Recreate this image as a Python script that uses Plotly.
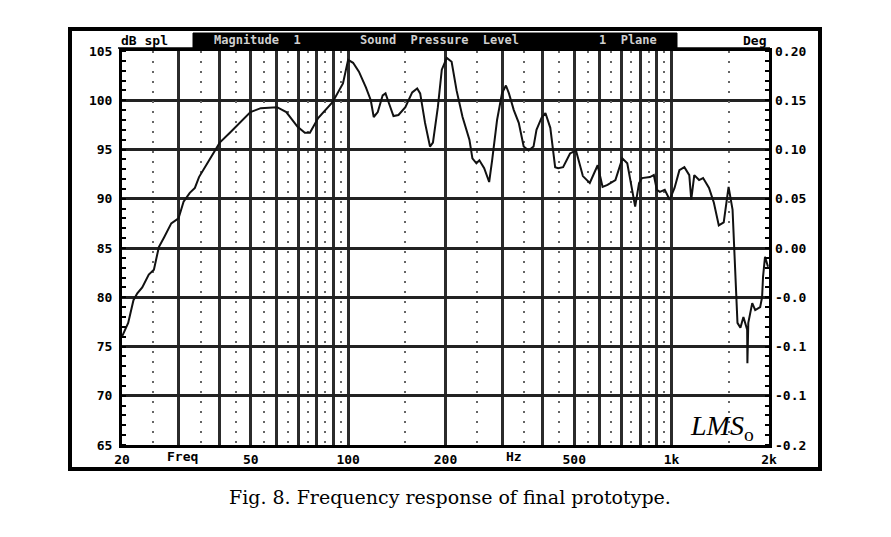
import math
import plotly.graph_objects as go

# ---------------- data ----------------
freq_hz = [20, 20.9, 21.7, 22.3, 23.1, 24.2, 25.1, 26.0, 27.0, 28.4, 29.9, 31.0, 32.4, 33.6,
           34.6, 37.2, 40.1, 43.1, 46.3, 49.9, 53.7, 60.3, 64.4, 69.8, 73.5, 76.2, 80.8,
           89.5, 96.4, 100, 103.6, 108, 113.5, 117.5, 120, 123.5, 127.9, 130.5, 133.4,
           138.1, 143.1, 150.3, 157.8, 163.5, 167, 172.9, 179.1, 182.9, 189.4, 194.8,
           201.8, 208.9, 216.4, 225.8, 237.1, 242.2, 249.2, 254.5, 263.4, 272.9, 278.7,
           288.7, 299, 307.5, 314.1, 325.2, 336.9, 348.9, 361.4, 374.3, 382.2, 396,
           407.3, 421.7, 436.5, 445.7, 461.9, 485.3, 506.2, 531.7, 558.5, 590.7, 611.8,
           633.7, 670.3, 704, 729.3, 755.1, 771.5, 793.1, 810, 857, 881, 900.2, 919.3,
           952.2, 986.3, 1021, 1057, 1095, 1134, 1150, 1175, 1216, 1251, 1278, 1305,
           1351, 1399, 1449, 1490, 1500, 1543, 1554, 1576, 1598, 1632, 1667, 1712,
           1715, 1726, 1775, 1813, 1878, 1904, 1917, 1944, 1986]
spl_db = [76.0, 77.4, 79.7, 80.4, 81.0, 82.3, 82.8, 85.1, 86.1, 87.5, 88.0, 89.7, 90.6, 91.1,
          92.2, 93.9, 95.7, 96.7, 97.7, 98.8, 99.2, 99.3, 98.8, 97.3, 96.7, 96.7, 98.2,
          99.8, 101.7, 104.1, 103.8, 102.9, 101.3, 100.0, 98.3, 98.8, 100.5, 100.7, 99.8,
          98.4, 98.5, 99.3, 100.8, 101.2, 100.7, 97.7, 95.3, 95.7, 99.3, 103.1,
          104.3, 103.9, 101.0, 98.3, 96.0, 94.1, 93.6, 93.9, 93.1, 91.7, 93.9,
          98.0, 100.7, 101.5, 100.7, 99.0, 97.7, 95.3, 94.9, 95.3, 97.0, 98.2,
          98.7, 97.2, 93.2, 93.1, 93.2, 94.6, 94.9, 92.3, 91.6, 93.4, 91.2,
          91.4, 91.9, 94.1, 93.6, 90.9, 89.2, 91.6, 92.1, 92.2, 92.4, 90.9, 90.7,
          90.9, 89.9, 91.1, 92.9, 93.2, 92.4, 89.9, 92.4, 91.9, 92.1, 91.6, 91.1,
          89.6, 87.3, 87.6, 90.2, 91.2, 88.9, 86.5, 82.1, 77.4, 76.9, 78.0, 76.7,
          73.3, 77.4, 79.4, 78.7, 79.0, 80.0, 82.1, 84.1, 83.1]

spl_ticks = [65, 70, 75, 80, 85, 90, 95, 100, 105]
spl_tick_text = ["65", "70", "75", "80", "85", "90", "95", "100", "105"]
deg_ticks = [-0.2, -0.15, -0.1, -0.05, 0.0, 0.05, 0.10, 0.15, 0.20]
deg_tick_text = ["-0.2", "-0.1", "-0.1", "-0.0", "0.00", "0.05", "0.10", "0.15", "0.20"]
freq_labels = [20, 50, 100, 200, 500, 1000, 2000]
freq_label_text = ["20", "50", "100", "200", "500", "1k", "2k"]
freq_solid = [30, 40, 60, 70, 80, 90, 300, 400, 600, 700, 800, 900]
freq_dotted = [25, 35, 45, 55, 65, 75, 85, 95, 150, 250, 350, 450, 550, 650, 750, 850, 950,
               1500]

header_texts = ["Magnitude  1", "Sound  Pressure  Level", "1  Plane"]
caption_text = "Fig. 8. Frequency response of final prototype."

# ---------------- layout helpers ----------------
# the page body keeps an 8px margin, so the figure is sized to fit inside it and
# page pixel positions are converted to figure-relative (paper) positions
PAGE_OFF = 8
W, H = 891 - 2 * PAGE_OFF, 537 - 2 * PAGE_OFF


def px(x):
    return (x - PAGE_OFF) / W


def py(y):
    return 1 - (y - PAGE_OFF) / H


MONO = "DejaVu Sans Mono"
SERIF = "DejaVu Serif"
X_RANGE = [math.log10(20), math.log10(2000)]
X_DOMAIN = [px(122), px(769)]

fig = go.Figure()
fig.add_trace(go.Scatter(x=freq_hz, y=spl_db, mode="lines",
                         line=dict(color="#111111", width=2), hoverinfo="skip",
                         showlegend=False))
# helper trace so that the dotted-grid x axis and the right (Deg) axis are drawn
fig.add_trace(go.Scatter(x=[freq_hz[0]], y=[deg_ticks[4]], xaxis="x2", yaxis="y2",
                         mode="lines", line=dict(width=0), hoverinfo="skip",
                         showlegend=False))

tickfont = dict(family=MONO, size=13, color="black", weight="bold")

fig.update_layout(
    width=W, height=H,
    margin=dict(l=0, r=0, t=0, b=0, pad=0, autoexpand=False),
    paper_bgcolor="white", plot_bgcolor="white",
    showlegend=False,
    xaxis=dict(
        type="log", range=X_RANGE, domain=X_DOMAIN, automargin=False,
        tickmode="array", tickvals=freq_labels, ticktext=freq_label_text,
        tickfont=tickfont, ticks="",
        showgrid=True, gridcolor="#2b2b2b", gridwidth=2.5,
        showline=True, linecolor="black", linewidth=3, mirror=True,
        zeroline=False,
        minor=dict(tickmode="array", tickvals=freq_solid, showgrid=True,
                   gridcolor="#2b2b2b", gridwidth=2.5, ticks=""),
        anchor="y", layer="above traces",
    ),
    xaxis2=dict(
        type="log", range=X_RANGE, domain=X_DOMAIN, automargin=False,
        overlaying="x", side="bottom", anchor="y",
        tickmode="array", tickvals=freq_dotted, showticklabels=False, ticks="",
        showgrid=True, gridcolor="#666666", gridwidth=2, griddash="2px,8px",
        showline=False, zeroline=False,
    ),
    yaxis=dict(
        range=[65, 105], domain=[py(445), py(51)], automargin=False,
        tickmode="array", tickvals=spl_ticks, ticktext=spl_tick_text,
        tickfont=tickfont, ticks="", ticklabelstandoff=4,
        showgrid=True, gridcolor="#222222", gridwidth=3,
        showline=True, linecolor="black", linewidth=3, mirror=True,
        zeroline=False,
        minor=dict(dtick=1, ticks="inside", ticklen=4, tickwidth=2, tickcolor="black",
                   showgrid=False),
        anchor="x",
    ),
    yaxis2=dict(
        overlaying="y", side="right", anchor="x", automargin=False,
        range=[-0.2, 0.2],
        tickmode="array", tickvals=deg_ticks, ticktext=deg_tick_text,
        tickfont=tickfont, ticks="", ticklabelstandoff=5,
        showgrid=False, zeroline=False, showline=False,
        minor=dict(dtick=0.01, ticks="inside", ticklen=4, tickwidth=2, tickcolor="black",
                   showgrid=False),
    ),
)

shapes = [
    # outer frame
    dict(type="rect", xref="paper", yref="paper", x0=px(70), x1=px(820), y0=py(469),
         y1=py(29), line=dict(color="black", width=4), fillcolor="rgba(0,0,0,0)"),
    # header bar
    dict(type="rect", xref="paper", yref="paper", x0=px(193), x1=px(677), y0=py(48),
         y1=py(33), line=dict(color="black", width=1), fillcolor="black"),
    # header underline
    dict(type="line", xref="paper", yref="paper", x0=px(118), x1=px(770), y0=py(48),
         y1=py(48), line=dict(color="black", width=1.5)),
]
fig.update_layout(shapes=shapes)

hdr_font = dict(family=MONO, size=12, color="#cfcfcf", weight="bold")
lbl_font = dict(family=MONO, size=13, color="black", weight="bold")
ann = [
    dict(text="dB spl", x=px(119), y=py(40), xanchor="left", yanchor="middle",
         font=lbl_font),
    dict(text=header_texts[0], x=px(257), y=py(40.5), xanchor="center", yanchor="middle",
         font=hdr_font),
    dict(text=header_texts[1], x=px(439), y=py(40.5), xanchor="center", yanchor="middle",
         font=hdr_font),
    dict(text=header_texts[2], x=px(628), y=py(40.5), xanchor="center", yanchor="middle",
         font=hdr_font),
    dict(text="Deg", x=px(768), y=py(40), xanchor="right", yanchor="middle",
         font=lbl_font),
    dict(text="Freq", x=px(182), y=py(456), xanchor="center", yanchor="middle",
         font=lbl_font),
    dict(text="Hz", x=px(514), y=py(456), xanchor="center", yanchor="middle",
         font=lbl_font),
    dict(text="<i>LMS</i><sub>o</sub>", x=px(722), y=py(427), xanchor="center",
         yanchor="middle", font=dict(family="Liberation Serif", size=28, color="black")),
    dict(text=caption_text, x=px(450), y=py(497), xanchor="center", yanchor="middle",
         font=dict(family=SERIF, size=19, color="black")),
]
for a in ann:
    a.update(xref="paper", yref="paper", showarrow=False)
fig.update_layout(annotations=ann)

fig.write_html("out.html")
